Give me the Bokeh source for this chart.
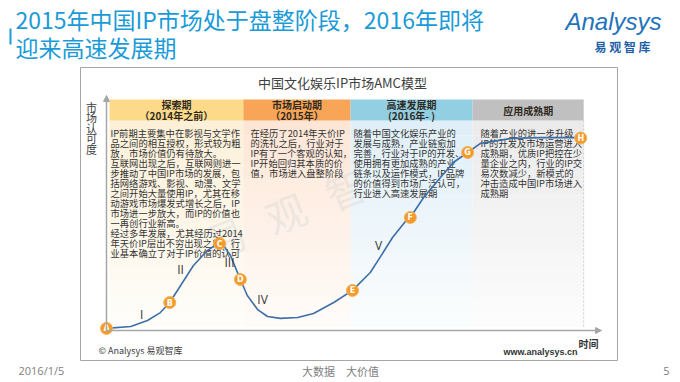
from bokeh.plotting import figure
from bokeh.models import Range1d, Arrow, NormalHead
from bokeh.core.properties import value
from bokeh.embed import file_html
from bokeh.resources import INLINE

CJK = "Noto Sans CJK SC"

# ---------------- data ----------------
title_lines = ["2015年中国IP市场处于盘整阶段，2016年即将", "迎来高速发展期"]
chart_title = "中国文化娱乐IP市场AMC模型"
y_axis_label = ["市", "场", "认", "可", "度"]
x_axis_label = "时间"

stage_names = ["探索期", "市场启动期", "高速发展期", "应用成熟期"]
stage_periods = ["（2014年之前）", "（2015年）", "(2016年- )", ""]
stage_bounds = [0.6, 27.7, 49.4, 74.1, 96.6]   # time units
stage_texts = [
    ["IP前期主要集中在影视与文学作", "品之间的相互授权，形式较为粗", "放，市场价值仍有待放大。",
     "互联网出现之后，互联网则进一", "步推动了中国IP市场的发展，包", "括网络游戏、影视、动漫、文学",
     "之间开始大量使用IP，尤其在移", "动游戏市场爆发式增长之后，IP", "市场进一步放大，而IP的价值也",
     "一再创行业新高。", "经过多年发展，尤其经历过2014", "年天价IP层出不穷出现之后，行",
     "业基本确立了对于IP价值的认可"],
    ["在经历了2014年天价IP", "的洗礼之后，行业对于", "IP有了一个客观的认知，",
     "IP开始回归其本质的价", "值，市场进入盘整阶段"],
    ["随着中国文化娱乐产业的", "发展与成熟，产业链愈加", "完善，行业对于IP的开发、",
     "使用拥有更加成熟的产业", "链条以及运作模式，IP品牌", "的价值得到市场广泛认可，",
     "行业进入高速发展期"],
    ["随着产业的进一步升级，", "IP的开发及市场运营进入", "成熟期，优质IP把控在少",
     "量企业之内，行业的IP交", "易次数减少，新模式的", "冲击造成中国IP市场进入", "成熟期"],
]
header_colors = ["#fdd98a", "#f9a557", "#93cfe2", "#c0c0c0"]
body_colors = ["#fcf0d8", "#fde6d6", "#e0eff7", "#ebebeb"]

# market recognition curve (time 0-100, recognition 0-100)
curve_t = [0, 4.9, 8.3, 10.9, 12.8, 15.0, 17.6, 20.4, 22.5, 23.7, 25.1, 26.1, 27.1, 28.5,
           30.6, 32.6, 35.2, 38.7, 41.9, 46.0, 49.8, 53.4, 55.5, 57.9, 60.5, 61.5, 64.2,
           67.6, 70.2, 73.1, 75.7, 81.8, 87.9, 96.0]
curve_v = [0.9, 1.7, 4.3, 7.7, 12.0, 19.3, 27.9, 34.3, 37.3, 36.5, 32.2, 27.0, 21.9, 15.0,
           9.0, 6.0, 5.2, 5.6, 7.3, 12.0, 17.2, 24.9, 31.8, 39.9, 46.8, 48.5, 57.1,
           65.7, 72.1, 76.4, 80.3, 82.4, 82.8, 82.8]
marker_labels = ["A", "B", "C", "D", "E", "F", "G", "H"]
marker_t = [0, 12.8, 22.9, 27.1, 49.8, 61.5, 73.1, 96.0]
marker_v = [0.9, 12.0, 37.3, 21.9, 17.2, 48.5, 76.4, 82.6]
phase_labels = ["I", "II", "III", "IV", "V"]
phase_t = [7.1, 15.0, 24.9, 31.6, 55.1]
phase_v = [6.9, 26.2, 29.2, 13.3, 36.5]

footer_date = "2016/1/5"
footer_slogan = "大数据　大价值"
page_number = "5"

# ---------------- layout helpers ----------------
X0, XS = 106.0, 4.94      # axis origin x, px per time unit
Y0, YS = 330.0, 2.33      # axis origin y, px per recognition unit
def px(t):
    return X0 + t * XS
def py(v):
    return Y0 - v * YS

p = figure(width=680, height=382, x_range=Range1d(0, 680), y_range=Range1d(382, 0),
           output_backend="svg", toolbar_location=None, min_border=0)
p.axis.visible = False
p.grid.visible = False
p.outline_line_color = None
p.background_fill_color = "white"

# ---- title ----
p.segment(x0=[10], y0=[28], x1=[10], y1=[44], line_color="#1a9bd7", line_width=2)
p.text(x=[15, 15], y=[18, 46], text=title_lines, text_font=value(CJK), text_font_size="23px",
       text_color="#1a9bd7", text_baseline="middle", text_align="left")
# logo
p.text(x=[565], y=[21], text=["Analysys"], text_font=value("Liberation Sans"),
       text_font_style="italic", text_font_size="24px", text_color="#2272bb",
       text_baseline="middle", text_align="left")
p.text(x=[622], y=[46], text=["易 观 智 库"], text_font=value(CJK), text_font_style="bold",
       text_font_size="12px", text_color="#1f5fa8", text_baseline="middle", text_align="center")

# ---- chart box ----
p.quad(left=[80], right=[617], top=[67], bottom=[360], fill_color="white",
       line_color="#a6a6a6", line_width=1)
p.text(x=[342], y=[82], text=[chart_title], text_font=value(CJK), text_font_size="13px",
       text_color="#404040", text_baseline="middle", text_align="center")

# column backgrounds (fading)
nb = 14
top_b, bot_b = 120.0, 326.0
for i in range(4):
    l, r = px(stage_bounds[i]), px(stage_bounds[i + 1])
    for k in range(nb):
        y1 = top_b + (bot_b - top_b) * k / nb
        y2 = top_b + (bot_b - top_b) * (k + 1) / nb
        p.quad(left=[l], right=[r], top=[y1], bottom=[y2], fill_color=body_colors[i],
               fill_alpha=1.0 - 0.85 * k / (nb - 1), line_color=None)
    p.quad(left=[l], right=[r], top=[99], bottom=[120], fill_color=header_colors[i], line_color=None)
    cx = (l + r) / 2
    if stage_periods[i]:
        p.text(x=[cx, cx], y=[104, 115], text=[stage_names[i], stage_periods[i]],
               text_font=value(CJK), text_font_style="bold", text_font_size="10px",
               text_color="#2e2a22", text_baseline="middle", text_align="center")
    else:
        p.text(x=[cx], y=[109.5], text=[stage_names[i]], text_font=value(CJK),
               text_font_style="bold", text_font_size="10px", text_color="#2e2a22",
               text_baseline="middle", text_align="center")
p.segment(x0=[px(stage_bounds[4])], y0=[120], x1=[px(stage_bounds[4])], y1=[326],
          line_color="#c8c8c8", line_dash="2 2", line_width=1)

# watermark
p.text(x=[225, 285, 345], y=[236, 212, 188], text=["易", "观", "智"], text_font=value(CJK),
       text_font_size="40px", text_color="#d9d9d9", text_alpha=0.45, angle=0.38,
       text_baseline="middle", text_align="center")

# column texts
text_x = [110, 250, 353, 480]
for i in range(4):
    lines = stage_texts[i]
    ys = [132 + 10.0 * j for j in range(len(lines))]
    p.text(x=[text_x[i]] * len(lines), y=ys, text=lines, text_font=value(CJK),
           text_font_size="9.3px", text_color="#333333", text_baseline="middle", text_align="left")

# axes
ax_col = "#a6a6a6"
p.add_layout(Arrow(end=NormalHead(size=6, fill_color=ax_col, line_color=ax_col),
                   x_start=X0, y_start=Y0, x_end=X0, y_end=95, line_color=ax_col, line_width=1.5))
p.add_layout(Arrow(end=NormalHead(size=6, fill_color=ax_col, line_color=ax_col),
                   x_start=X0, y_start=Y0, x_end=601, y_end=Y0, line_color=ax_col, line_width=1.5))
p.text(x=[91] * 5, y=[106 + 10.5 * j for j in range(5)], text=y_axis_label, text_font=value(CJK),
       text_font_size="11px", text_color="#404040", text_baseline="middle", text_align="center")
p.text(x=[588], y=[343], text=[x_axis_label], text_font=value(CJK), text_font_size="10px",
       text_font_style="bold", text_color="#333333", text_baseline="middle", text_align="center")

# curve
p.line(x=[px(t) for t in curve_t], y=[py(v) for v in curve_v], line_color="#3e6ea8", line_width=1.6)
p.scatter(x=[px(t) for t in marker_t], y=[py(v) for v in marker_v], size=12,
          fill_color="#f39a2b", line_color="#f7b25c", line_width=1)
p.text(x=[px(t) for t in marker_t], y=[py(v) + 0.5 for v in marker_v], text=marker_labels,
       text_font=value("DejaVu Sans"), text_font_style="bold", text_font_size="8px",
       text_color="white", text_baseline="middle", text_align="center")
p.text(x=[px(t) for t in phase_t], y=[py(v) for v in phase_v], text=phase_labels,
       text_font=value("Open Sans"), text_font_size="12px", text_color="#333333",
       text_baseline="middle", text_align="center")

# sources
p.text(x=[98], y=[350], text=["© Analysys 易观智库"], text_font=value(CJK), text_font_size="9px",
       text_color="#404040", text_baseline="middle", text_align="left")
p.text(x=[540], y=[351], text=["www.analysys.cn"], text_font=value("Liberation Sans"),
       text_font_size="9px", text_font_style="bold", text_color="#333333",
       text_baseline="middle", text_align="center")

# footer
p.text(x=[18], y=[370], text=[footer_date], text_font=value("Open Sans"), text_font_size="11px",
       text_color="#808080", text_baseline="middle", text_align="left")
p.text(x=[340], y=[370], text=[footer_slogan], text_font=value(CJK), text_font_size="11px",
       text_color="#808080", text_baseline="middle", text_align="center")
p.text(x=[666], y=[370], text=[page_number], text_font=value("Open Sans"), text_font_size="11px",
       text_color="#808080", text_baseline="middle", text_align="center")

open("out.html", "w").write(file_html(p, INLINE))
